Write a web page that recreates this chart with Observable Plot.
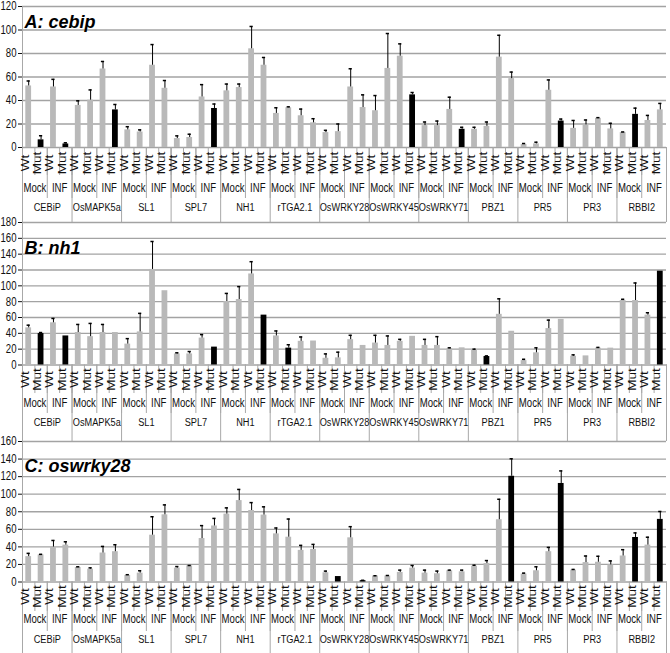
<!DOCTYPE html>
<html><head><meta charset="utf-8">
<script src="https://cdn.jsdelivr.net/npm/d3@7"></script>
<script src="https://cdn.jsdelivr.net/npm/@observablehq/plot@0.6"></script>
<style>
body{margin:0;background:#fff;}
#chart svg{display:block;overflow:visible;background:transparent;}
</style>
</head><body><div id="chart"></div>
<script>
const genes = ["CEBiP","OsMAPK5a","SL1","SPL7","NH1","rTGA2.1","OsWRKY28","OsWRKY45","OsWRKY71","PBZ1","PR5","PR3","RBBI2"];
const conditions = ["Mock","INF"];
const genotypes = ["Wt","Mut"];

// Panel A: cebip  (per gene: Mock Wt, Mock Mut, INF Wt, INF Mut)
const titleA = "A: cebip";
const ticksA = [0,20,40,60,80,100,120];
const valuesA = [52.4,6.5,51.5,3, 35.8,40.3,66.8,32, 15,13.2,70,50.4, 7.6,8.5,43,33.2, 48.2,51,84,70, 29,33.8,27,21,
  12.7,13.5,51.5,34, 31.3,67.3,77.7,44.8, 18.6,18.6,32.4,15.5, 15.5,18,76.9,58.6, 2.5,3.1,48.7,22.5, 16.3,19.2,24.8,15.8, 12.7,28.2,23,32];
const errorsA = [4.2,3.5,6.5,1, 3.9,8.7,6.4,4.6, 2.7,1.8,17.6,6.6, 2.3,2.8,10.5,3.8, 5.8,3,19,6.6, 4.8,0.8,5.7,3.5,
  1.9,6.5,15.5,10.8, 12.9,29.7,10.5,2, 3.1,3.9,10.4,1.7, 1.7,3.7,18.6,5.6, 0.9,1.4,8.8,1.7, 6.7,4.2,0.6,4.8, 0.5,5.3,4.3,5.5];
const blackA = [0,1,0,1, 0,0,0,1, 0,0,0,0, 0,0,0,1, 0,0,0,0, 0,0,0,0, 0,0,0,0, 0,0,0,1, 0,0,0,1, 0,0,0,0, 0,0,0,1, 0,0,0,0, 0,1,0,0];

// Panel B: nh1
const titleB = "B: nh1";
const ticksB = [0,20,40,60,80,100,120,140,160,180];
const valuesB = [46.9,39.7,53.3,36.7, 41,35.8,41,41, 26.4,41.8,120.7,93.8, 14,14,34,22.6, 80.2,82.7,115,63, 36.7,21.3,29.9,30.3,
  8.5,9,32,24.7, 27.7,24.7,29.9,36.2, 24.7,24.7,20.5,21.7, 19.2,10.7,64,42.6, 5.5,15.4,46,57.6, 11,11.5,21.3,21.3, 81.4,81.4,63,118.5];
const errorsB = [3.4,1.3,5.5,0, 10.2,16.7,10.2,0, 6.9,23.4,35.3,0, 1.4,3,4.4,0, 10.2,16.3,15.5,0, 6.3,4.3,5.5,0,
  5.5,7.2,5.5,0, 9.8,12,2.5,0, 7.7,11.1,1.2,0, 0.8,0.8,19.6,0, 1.7,6.3,10.7,0, 1.8,0,0.9,0, 1.6,22.2,3,0];
const blackB = [0,1,0,1, 0,0,0,0, 0,0,0,0, 0,0,0,1, 0,0,0,1, 0,1,0,0, 0,0,0,0, 0,0,0,0, 0,0,0,0, 0,1,0,0, 0,0,0,0, 0,0,0,0, 0,0,0,1];

// Panel C: oswrky28
const titleC = "C: oswrky28";
const ticksC = [0,20,40,60,80,100,120,140,160];
const valuesC = [28.9,30.8,39.8,42, 16.5,14.6,33,34.5, 7.5,10.1,53.3,76.5, 15.8,18.4,49.5,63.8, 77.3,92.7,81.4,76.2, 54.8,51,36,37.1,
  10.5,6.2,50.3,1.5, 6.8,6.8,10.9,15.8, 10.1,9.4,12.8,11.6, 18,21,70.9,120.4, 9,12.8,34.5,112.2, 13.5,22.1,22.5,19.5, 29.6,50.7,42,71.3];
const errorsC = [3.7,0.7,7.5,3.8, 0.8,1.5,7.5,7.9, 0.8,2.7,21,11.3, 1.8,0.4,14.7,8.6, 7.1,12.7,9,9.4, 6.7,20.7,5.7,5.7,
  1.9,0,12.7,0.4, 0.3,0.6,2.6,3, 3.4,3,0.7,1.9, 1.1,3.4,23.3,19.9, 1.1,4.5,4.9,14.3, 0.8,7.5,6.8,4.5, 7.2,5.2,9,9];
const blackC = [0,0,0,0, 0,0,0,0, 0,0,0,0, 0,0,0,0, 0,0,0,0, 0,0,0,0, 0,1,0,1, 0,0,0,0, 0,0,0,0, 0,0,0,1, 0,0,0,1, 0,0,0,0, 0,1,0,1];

const GRAY = "#b9b9b9", GRID = "#a3a3a3", SEP = "#a8a8a8";
const FONT = "'Liberation Sans', Arial, sans-serif";
const SQ = 0.8;

// narrow the text horizontally (the reference figure is horizontally compressed); rotate the Wt/Mut labels
function squish(svg) {
  svg.querySelectorAll("text").forEach(t => {
    if (t.closest(".ttl")) return;
    const vert = !!t.closest(".wm");
    const tr = t.getAttribute("transform") || "";
    const m = tr.match(/translate\(\s*([-\d.e]+)[\s,]+([-\d.e]+)\s*\)/);
    let x, y;
    if (m) { x = +m[1]; y = +m[2]; }
    else {
      x = +(t.getAttribute("x") || 0); y = +(t.getAttribute("y") || 0);
      t.setAttribute("x", 0); t.setAttribute("y", 0);
    }
    t.setAttribute("transform", `translate(${x},${y})` + (vert ? ` rotate(-90) scale(1,${SQ})` : ` scale(${SQ},1)`));
  });
}

function panel(cfg) {
  const n = genes.length * 4;
  const data = [];
  genes.forEach((g, gi) => conditions.forEach((c, ci) => genotypes.forEach((t, ti) => {
    const i = gi * 4 + ci * 2 + ti;
    data.push({i, gene: g, cond: c, geno: t, v: cfg.values[i], e: cfg.errors[i], black: cfg.black[i] === 1});
  })));
  const condRows = [];
  genes.forEach((g, gi) => conditions.forEach((c, ci) => condRows.push({i: gi * 4 + ci * 2, c})));
  const frameH = cfg.height - cfg.marginTop - cfg.marginBottom;
  const bounds = d3.range(n + 1);
  const withErr = data.filter(d => d.e > 0);
  const marks = [
    Plot.ruleY(cfg.ticks, {stroke: GRID, strokeWidth: 1.3}),
    Plot.ruleX([0], {stroke: SEP}),
    Plot.ruleX(bounds, {stroke: SEP, insetTop: frameH, insetBottom: -cfg.wtSep}),
    Plot.ruleX(bounds.filter(b => b % 2 === 0), {stroke: SEP, insetTop: frameH, insetBottom: -cfg.condSep}),
    Plot.ruleX(bounds.filter(b => b % 4 === 0), {stroke: SEP, insetTop: frameH, insetBottom: -cfg.marginBottom}),
    Plot.rectY(data, {x1: d => d.i, x2: d => d.i + 1, y: "v", fill: d => d.black ? "#000" : GRAY, insetLeft: 3.3, insetRight: 3.3}),
    Plot.ruleX(withErr, {x: d => d.i + 0.5, y1: "v", y2: d => d.v + d.e, stroke: "#000", strokeWidth: 1}),
    Plot.ruleY(withErr, {y: d => d.v + d.e, x1: d => d.i + 0.37, x2: d => d.i + 0.63, stroke: "#000", strokeWidth: 1.5}),
    Plot.text(data, {x: d => d.i + 0.5, text: "geno", frameAnchor: "bottom", dy: cfg.wtY, textAnchor: "middle", fontSize: 13.5, fill: "#111", className: "wm"}),
    Plot.text(condRows, {x: d => d.i + 1, text: "c", frameAnchor: "bottom", dy: cfg.condY, fontSize: 12, fill: "#111"}),
    Plot.text(genes, {x: (d, k) => k * 4 + 2, text: d => d, frameAnchor: "bottom", dy: cfg.geneY, fontSize: 11.5, fill: "#111"}),
    Plot.text([cfg.title], {frameAnchor: "top-left", dx: 2, dy: cfg.titleDy, textAnchor: "start", lineAnchor: "bottom",
      fontSize: 18, fontWeight: "bold", fontStyle: "italic", fill: "#000", className: "ttl"})
  ];
  if (cfg.topExt) marks.unshift(Plot.ruleX(bounds.filter(b => b % 4 === 0), {stroke: SEP, insetTop: -cfg.marginTop, insetBottom: frameH}));
  const svg = Plot.plot({
    width: 670, height: cfg.height,
    marginTop: cfg.marginTop, marginBottom: cfg.marginBottom, marginLeft: 22, marginRight: 4,
    style: {fontFamily: FONT, fontSize: "12px", color: "#111", background: "transparent", overflow: "visible"},
    x: {domain: [0, n], axis: null},
    y: {domain: [0, cfg.ticks[cfg.ticks.length - 1]], ticks: cfg.ticks, tickSize: 4, tickPadding: 2, label: null, tickFormat: d => String(d)},
    marks
  });
  squish(svg);
  return svg;
}

const chart = document.getElementById("chart");
chart.appendChild(panel({title: titleA, ticks: ticksA, values: valuesA, errors: errorsA, black: blackA,
  height: 219, marginTop: 6, marginBottom: 72, wtSep: 28, condSep: 51, wtY: 15.5, condY: 44, geneY: 63, titleDy: 21}));
chart.appendChild(panel({title: titleB, ticks: ticksB, values: valuesB, errors: errorsB, black: blackB, topExt: true,
  height: 219, marginTop: 3, marginBottom: 73.5, wtSep: 28.5, condSep: 48.5, wtY: 14.5, condY: 42, geneY: 61, titleDy: 31}));
chart.appendChild(panel({title: titleC, ticks: ticksC, values: valuesC, errors: errorsC, black: blackC, topExt: true,
  height: 215, marginTop: 3, marginBottom: 71.5, wtSep: 29.5, condSep: 49.5, wtY: 14.5, condY: 40.5, geneY: 61, titleDy: 30}));
</script>
</body></html>
